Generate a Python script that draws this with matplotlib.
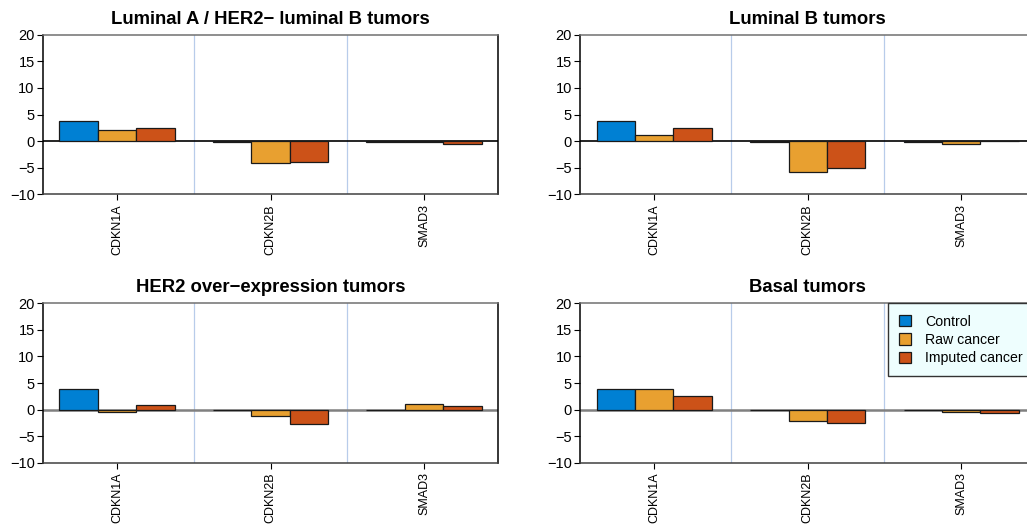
import numpy as np
import matplotlib
matplotlib.use("Agg")
import matplotlib.pyplot as plt

plt.rcParams["font.family"] = ["Liberation Sans", "DejaVu Sans"]

genes = ["CDKN1A", "CDKN2B", "SMAD3"]
series = ["Control", "Raw cancer", "Imputed cancer"]
colors = ["#0080D3", "#E8A030", "#CC5218"]

titles = ["Luminal A / HER2\u2212 luminal B tumors", "Luminal B tumors",
          "HER2 over\u2212expression tumors", "Basal tumors"]

# values per panel: rows = series (control, raw, imputed), cols = genes
lumA = [[3.8, -0.15, -0.12], [2.1, -4.1, -0.25], [2.4, -3.9, -0.55]]
lumB = [[3.8, -0.15, -0.12], [1.1, -5.8, -0.5], [2.4, -5.0, 0.1]]
her2 = [[3.9, -0.12, -0.12], [-0.5, -1.3, 1.0], [0.8, -2.8, 0.6]]
basal = [[3.9, -0.12, -0.12], [3.95, -2.2, -0.45], [2.6, -2.45, -0.7]]
panels = [lumA, lumB, her2, basal]

fig = plt.figure(figsize=(10.27, 5.3), dpi=100)

# axes boxes in figure fraction (right column runs off the page like the original)
boxes = [
    [0.0419, 0.6334, 0.443, 0.301],
    [0.565, 0.6334, 0.443, 0.301],
    [0.0419, 0.127, 0.443, 0.3007],
    [0.565, 0.127, 0.443, 0.3007],
]

x = np.arange(len(genes))
w = 0.25

for i, vals in enumerate(panels):
    ax = fig.add_axes(boxes[i])
    for k in range(3):
        ax.bar(x + (k - 1) * w, vals[k], width=w, color=colors[k],
               edgecolor="#1a1a1a", linewidth=0.9, label=series[k], zorder=3)
    if i < 2:
        ax.axhline(0, color="black", lw=1.2, zorder=2)
    else:
        ax.axhline(0, color="#808080", lw=1.8, zorder=2)
    for s in [0.5, 1.5]:
        ax.axvline(s, color="#B8CCEA", lw=0.9, zorder=1)
    ax.set_xlim(-0.482, 2.482)
    ax.set_ylim(-10, 20)
    ax.set_yticks([-10, -5, 0, 5, 10, 15, 20])
    ax.set_yticklabels(["\u221210", "\u22125", "0", "5", "10", "15", "20"])
    ax.set_xticks(x)
    ax.set_xticklabels(genes, rotation=90, fontsize=9)
    ax.tick_params(axis="y", labelsize=10.5, length=4, pad=2)
    ax.tick_params(axis="x", length=4, pad=3)
    for sp in ax.spines.values():
        sp.set_linewidth(1.1)
    ax.spines["top"].set_color("#707070")
    ax.spines["bottom"].set_color("#404040")
    ax.spines["left"].set_color("black")
    ax.spines["right"].set_color("black")
    ax.set_title(titles[i], fontsize=13.3, fontweight="bold", pad=8)
    if i == 3:
        leg = ax.legend(loc="upper left", bbox_to_anchor=(0.676, 1.0),
                        fontsize=10.2, frameon=True, fancybox=False,
                        facecolor="#EEFEFE", edgecolor="#333333",
                        handlelength=0.85, handleheight=0.85, handletextpad=1.0,
                        labelspacing=0.3, borderpad=0.8, borderaxespad=0)
        leg.get_frame().set_alpha(1)
        leg.get_frame().set_linewidth(1.0)

fig.savefig("out.png", dpi=100)
